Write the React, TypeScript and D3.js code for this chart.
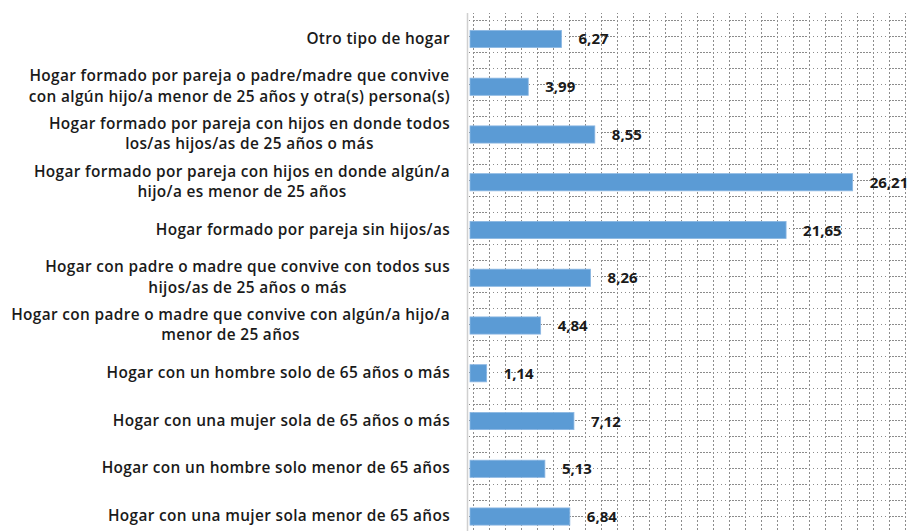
import React from "react";
import * as d3 from "d3";

const categories: string[] = [
  "Otro tipo de hogar",
  "Hogar formado por pareja o padre/madre que convive\ncon algún hijo/a menor de 25 años y otra(s) persona(s)",
  "Hogar formado por pareja con hijos en donde todos\nlos/as hijos/as de 25 años o más",
  "Hogar formado por pareja con hijos en donde algún/a\nhijo/a es menor de 25 años",
  "Hogar formado por pareja sin hijos/as",
  "Hogar con padre o madre que convive con todos sus\nhijos/as de 25 años o más",
  "Hogar con padre o madre que convive con algún/a hijo/a\nmenor de 25 años",
  "Hogar con un hombre solo de 65 años o más",
  "Hogar con una mujer sola de 65 años o más",
  "Hogar con un hombre solo menor de 65 años",
  "Hogar con una mujer sola menor de 65 años",
];
const values: number[] = [6.27, 3.99, 8.55, 26.21, 21.65, 8.26, 4.84, 1.14, 7.12, 5.13, 6.84];
const xDomain: [number, number] = [0, 30];

const W = 911;
const H = 531;
const FONT = "'Open Sans', sans-serif";
const LABEL_SIZE = 15.4;
const LABEL_SPACING = 0.35;

let ctx: CanvasRenderingContext2D | null = null;
function measure(s: string): number {
  if (!ctx) {
    const c = document.createElement("canvas");
    ctx = c.getContext("2d");
  }
  if (!ctx) return s.length * 8;
  ctx.font = `600 ${LABEL_SIZE}px 'Open Sans', sans-serif`;
  return ctx.measureText(s).width + LABEL_SPACING * s.length;
}

export default function App() {
  const x = d3.scaleLinear().domain(xDomain).range([470, 908]);
  const y = d3
    .scaleBand<string>()
    .domain(categories)
    .range([15.1, 540.4])
    .paddingInner(0.64)
    .paddingOuter(0.32);
  const fmt = (v: number) => d3.format(".2f")(v).replace(".", ",");
  const bw = y.bandwidth();
  const right = 450;

  return (
    <svg
      width={W}
      height={H}
      style={{ position: "fixed", left: 0, top: 0, background: "#fff" }}
      fontFamily={FONT}
    >
      <defs>
        <pattern id="grid" patternUnits="userSpaceOnUse" x={473} y={4} width={32} height={16}>
          <line x1={0} y1={0.5} x2={14} y2={0.5} stroke="#8c8c8c" strokeWidth={1} strokeDasharray="2,1" />
          <line x1={16} y1={0.5} x2={32} y2={0.5} stroke="#8c8c8c" strokeWidth={1} strokeDasharray="1,3" />
          <line x1={0.5} y1={0} x2={0.5} y2={16} stroke="#8c8c8c" strokeWidth={1} strokeDasharray="2,2" />
          <line x1={16.5} y1={0} x2={16.5} y2={16} stroke="#8c8c8c" strokeWidth={1} strokeDasharray="2,2" />
        </pattern>
      </defs>
      <rect x={467} y={13} width={441} height={H - 13} fill="url(#grid)" />
      <line x1={467.5} y1={13} x2={467.5} y2={H} stroke="#d0d0d0" strokeWidth={1.5} />
      {categories.map((c, i) => {
        const yc = (y(c) as number) + bw / 2;
        const lines = c.split("\n");
        const lh = 20.5;
        const start = yc + 0.5 - ((lines.length - 1) * lh) / 2;
        const blockW = Math.max(...lines.map(measure));
        const cx = right - blockW / 2;
        return (
          <g key={i}>
            <rect
              x={x(0)}
              y={y(c)}
              width={x(values[i]) - x(0)}
              height={bw}
              fill="#5B9BD5"
              stroke="#8db8e3"
              strokeWidth={0.8}
            />
            <text
              x={x(values[i]) + 17}
              y={yc + 1.5}
              dominantBaseline="middle"
              fontSize={15}
              fontWeight={700}
              fill="#1a1a1a"
            >
              {fmt(values[i])}
            </text>
            <text
              textAnchor="middle"
              fontSize={LABEL_SIZE}
              fontWeight={600}
              letterSpacing={LABEL_SPACING}
              fill="#1a1a1a"
            >
              {lines.map((l, j) => (
                <tspan key={j} x={cx} y={start + j * lh} dominantBaseline="middle">
                  {l}
                </tspan>
              ))}
            </text>
          </g>
        );
      })}
    </svg>
  );
}
